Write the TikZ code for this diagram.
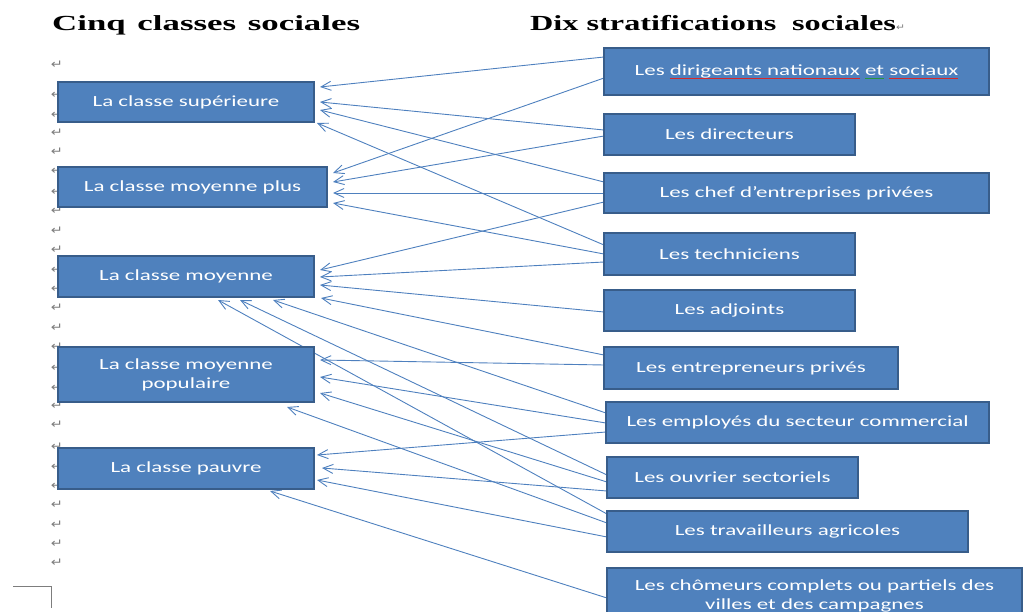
\documentclass[tikz,border=0pt]{standalone}
\usepackage{fontspec}
\setmainfont{Carlito}
\newfontfamily\boxfont[FakeStretch=1.48]{Carlito}
\newfontfamily\titlefont[FakeStretch=1.5]{Liberation Serif}
\newfontfamily\titlefontwide[FakeStretch=1.62]{Liberation Serif}
\newfontfamily\markfont[FakeStretch=1.2]{DejaVu Sans}
\usetikzlibrary{arrows.meta,calc,backgrounds}
\definecolor{boxfill}{RGB}{79,129,189}
\definecolor{boxline}{RGB}{56,93,138}
\definecolor{conncol}{RGB}{78,128,190}
\definecolor{markgray}{RGB}{125,125,125}
\definecolor{spellred}{RGB}{215,40,40}
\definecolor{spellgreen}{RGB}{40,150,60}
\newcommand\spellul[2]{\begingroup\setbox0\hbox{#2}\rlap{\textcolor{#1}{\rule[-3pt]{\wd0}{0.8pt}}}\box0\endgroup}
\tikzset{
  stratbox/.style={draw=boxline, line width=2.2pt, fill=boxfill, text=white,
    font=\boxfont\fontsize{15.5}{19}\selectfont, align=center,
    inner sep=0pt, outer sep=0pt},
  conn/.style={draw=conncol, line width=0.9pt, -{Straight Barb[length=10pt,width=9pt,line width=0.9pt]}},
  retmark/.style={text=markgray, font=\markfont\fontsize{12}{12}\selectfont, inner sep=0pt},
  titletext/.style={font=\titlefont\bfseries\fontsize{21.5}{24}\selectfont, inner sep=0pt, anchor=base west}
}
\begin{document}
\begin{tikzpicture}[x=1pt,y=-1pt]
\useasboundingbox (0,0) rectangle (1032,612);

% titles
\node[titletext, font=\titlefontwide\bfseries\fontsize{21.5}{24}\selectfont] (t1) at (52,31) {Cinq\hspace{3pt} classes\hspace{3pt} sociales};
\node[titletext] (t2) at (530,31) {Dix stratifications\hspace{0.35em} sociales{\markfont\mdseries\fontsize{9}{9}\selectfont\textcolor{markgray}{↵}}};

% left classes
\node[stratbox, minimum width=256, minimum height=40] (L1) at (186,102) {La classe supérieure};
\node[stratbox, minimum width=269, minimum height=40] (L2) at (192.5,187) {La classe moyenne plus};
\node[stratbox, minimum width=256, minimum height=41] (L3) at (186,276.5) {La classe moyenne};
\node[stratbox, minimum width=256, minimum height=55] (L4) at (186,374.5) {La classe moyenne\\populaire};
\node[stratbox, minimum width=256, minimum height=41] (L5) at (186,468.5) {La classe pauvre};

% right stratifications
\node[stratbox, minimum width=385, minimum height=47] (R1) at (796.5,71.5) {Les \spellul{spellred}{dirigeants nationaux} \spellul{spellgreen}{et} \spellul{spellred}{sociaux}};
\node[stratbox, minimum width=251, minimum height=41] (R2) at (729.5,134.5) {Les directeurs};
\node[stratbox, minimum width=385, minimum height=40] (R3) at (796.5,193) {Les chef d’entreprises privées};
\node[stratbox, minimum width=251, minimum height=42] (R4) at (729.5,254) {Les techniciens};
\node[stratbox, minimum width=251, minimum height=41] (R5) at (729.5,310.5) {Les adjoints};
\node[stratbox, minimum width=294, minimum height=42] (R6) at (751,368) {Les entrepreneurs privés};
\node[stratbox, minimum width=383, minimum height=41] (R7) at (797.5,422.5) {Les employés du secteur commercial};
\node[stratbox, minimum width=251, minimum height=41] (R8) at (732.5,477.5) {Les ouvrier sectoriels};
\node[stratbox, minimum width=361, minimum height=41] (R9) at (787.5,531.5) {Les travailleurs agricoles};
\node[stratbox, minimum width=415, minimum height=56, anchor=north] (R10) at (814.5,568) {Les chômeurs complets ou partiels des\\villes et des campagnes};

\begin{scope}[on background layer]
  % paragraph marks in the margin
  \foreach \y in {65,95,115,133,152,171,192,211,231,250,270,289,308,328,347,368,388,406,425,447,467,486,505,525,544,563}
    \node[retmark] (m\y) at (57,\y) {↵};
  % page corner mark
  \draw[markgray, line width=0.8pt] (13,586) -- (51,586) -- (51,608);

  % connectors
  \draw[conn] ($(R1.north west)+(0,9)$)  -- ($(L1.north east)+(6,5)$);
  \draw[conn] ($(R1.north west)+(0,30)$) -- ($(L2.north east)+(6,6)$);
  \draw[conn] ($(R2.north west)+(0,16)$) -- ($(L1.north east)+(6,20)$);
  \draw[conn] ($(R2.north west)+(0,22)$) -- ($(L2.north east)+(6,15)$);
  \draw[conn] ($(R3.north west)+(0,9)$)  -- ($(L1.north east)+(6,28)$);
  \draw[conn] ($(R3.north west)+(0,20)$) -- ($(L2.north east)+(6,26)$);
  \draw[conn] ($(R3.north west)+(0,29)$) -- ($(L3.north east)+(6,14)$);
  \draw[conn] ($(R4.north west)+(0,12)$) -- ($(L1.north east)+(3,41)$);
  \draw[conn] ($(R4.north west)+(0,21)$) -- ($(L2.north east)+(6,36)$);
  \draw[conn] ($(R4.north west)+(0,29)$) -- ($(L3.north east)+(6,21)$);
  \draw[conn] ($(R5.north west)+(0,22)$) -- ($(L3.north east)+(6,29)$);
  \draw[conn] ($(R6.north west)+(0,8)$)  -- ($(L3.north east)+(7,42)$);
  \draw[conn] ($(R6.north west)+(0,18)$) -- ($(L4.north east)+(6,13)$);
  \draw[conn] ($(R7.north west)+(0,11)$) -- ($(L3.north east)+(-41,44)$);
  \draw[conn] ($(R7.north west)+(0,21)$) -- ($(L4.north east)+(6,30)$);
  \draw[conn] ($(R7.north west)+(0,30)$) -- ($(L5.north east)+(3,7)$);
  \draw[conn] ($(R8.north west)+(0,18)$) -- ($(L3.north east)+(-74,44)$);
  \draw[conn] ($(R8.north west)+(0,25)$) -- ($(L4.north east)+(6,46)$);
  \draw[conn] ($(R8.north west)+(0,34)$) -- ($(L5.north east)+(8,20)$);
  \draw[conn] ($(R9.north west)+(0,3)$)  -- ($(L3.north east)+(-96,44)$);
  \draw[conn] ($(R9.north west)+(0,12)$) -- ($(L4.north east)+(-27,60)$);
  \draw[conn] ($(R9.north west)+(0,26)$) -- ($(L5.north east)+(3,32)$);
  \draw[conn] ($(R10.north west)+(0,30)$) -- ($(L5.north east)+(-44,43)$);
\end{scope}
\end{tikzpicture}
\end{document}
